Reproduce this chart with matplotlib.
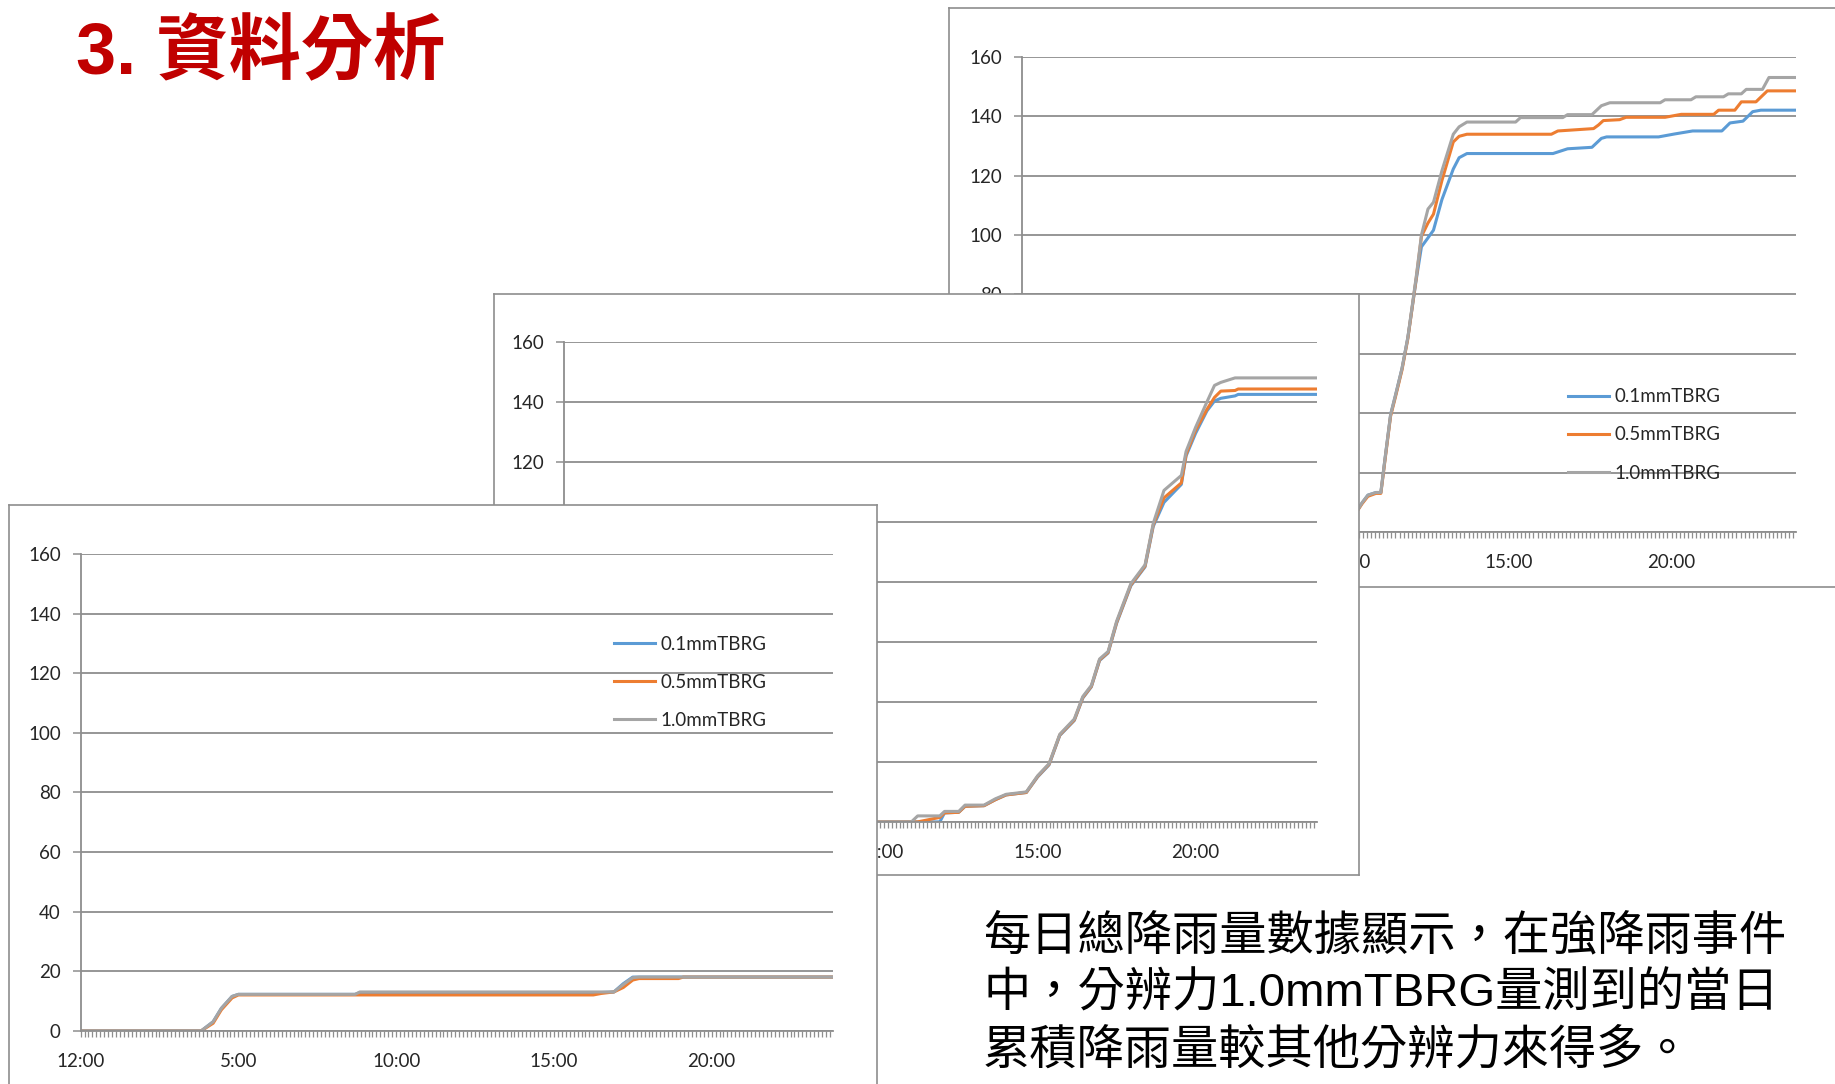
import matplotlib
matplotlib.use("Agg")
import matplotlib.pyplot as plt
from matplotlib.ticker import MultipleLocator

W, H = 1835, 1084

# ---- data (hours after midnight, accumulated rainfall mm) ----
series_names = ["0.1mmTBRG", "0.5mmTBRG", "1.0mmTBRG"]
series_colors = ["#5B9BD5", "#ED7D31", "#A5A5A5"]
x_tick_pos = [0, 5, 10, 15, 20]
x_tick_labels = ["12:00", "5:00", "10:00", "15:00", "20:00"]
y_ticks = [0, 20, 40, 60, 80, 100, 120, 140, 160]
x_end = 23.833

# back chart (top right)
c1_t_01 = [0, 9.6, 10.2, 10.47, 10.65, 10.9, 11.05, 11.17, 11.35, 11.5, 11.7, 11.88, 12.14, 12.3, 12.5,
           12.67, 12.93, 13.28, 13.46, 13.7, 16.35, 16.8, 17.55, 17.84, 18.0, 19.6, 20.1, 20.65, 21.55,
           21.8, 22.2, 22.5, 22.75, 23.833]
c1_v_01 = [0, 0, 5, 9.8, 12.4, 13.3, 13.3, 24, 39.5, 46, 55, 65.4, 85, 96, 99,
           101.6, 111.9, 122.2, 126, 127.4, 127.4, 129, 129.5, 132.5, 133, 133, 134, 135, 135,
           137.7, 138.3, 141.5, 142, 142]
c1_t_05 = [0, 9.6, 10.2, 10.47, 10.65, 10.9, 11.05, 11.17, 11.35, 11.5, 11.7, 11.88, 12.14, 12.3, 12.5,
           12.67, 12.93, 13.28, 13.46, 13.7, 16.3, 16.5, 17.6, 17.75, 17.9, 18.4, 18.6, 19.8, 20.3,
           21.3, 21.45, 21.95, 22.15, 22.6, 22.95, 23.833]
c1_v_05 = [0, 0, 5, 9.5, 12, 13, 13, 23.5, 39, 45.5, 54.5, 65, 85.5, 99.5, 104,
           107, 118.3, 131.3, 133.2, 133.9, 133.9, 135, 135.8, 137, 138.5, 138.8, 139.6, 139.6, 140.6,
           140.6, 142, 142, 144.8, 144.8, 148.5, 148.5]
c1_t_10 = [0, 9.6, 10.2, 10.47, 10.65, 10.9, 11.05, 11.17, 11.35, 11.5, 11.7, 11.88, 12.14, 12.3, 12.5,
           12.67, 12.93, 13.28, 13.46, 13.7, 15.2, 15.35, 16.65, 16.8, 17.55, 17.84, 18.1, 19.65, 19.8,
           20.6, 20.75, 21.6, 21.75, 22.15, 22.3, 22.8, 23.0, 23.833]
c1_v_10 = [0, 0, 5, 9.8, 12.4, 13.3, 13.3, 24, 39.5, 46, 55, 65.4, 86, 100, 108.7,
           111, 121.6, 133.9, 136.4, 138, 138, 139.5, 139.5, 140.5, 140.5, 143.5, 144.5, 144.5, 145.5,
           145.5, 146.5, 146.5, 147.5, 147.5, 149, 149, 153, 153]

# middle chart
c2_t = [0, 11.0, 11.2, 11.9, 12.05, 12.5, 12.7, 13.3, 13.66, 14.0, 14.64, 15.0, 15.36, 15.7, 16.16,
        16.43, 16.7, 16.96, 17.23, 17.5, 17.95, 18.4, 18.66, 19.0, 19.55, 19.7, 20.0, 20.36, 20.6,
        20.8, 21.25, 21.35, 23.833]
c2_v_01 = [0, 0, 0, 0, 3, 3.2, 5.2, 5.4, 7.4, 9.0, 9.8, 15, 19, 28.8, 33.8,
           41.3, 45, 53.8, 56.3, 66.2, 78.7, 85, 98.5, 106.5, 112.5, 122, 129.5, 137, 140.3,
           141.2, 142, 142.5, 142.5]
c2_v_05 = [0, 0, 0, 1.5, 3, 3.2, 5.2, 5.4, 7.4, 9.0, 9.8, 15.2, 19.2, 29, 34,
           41.5, 45.2, 54, 56.5, 66.5, 79, 85.3, 99, 108, 113, 122.5, 130.5, 137.5, 141.5,
           143.6, 143.8, 144.3, 144.3]
c2_v_10 = [0, 0, 2, 2, 3.5, 3.5, 5.6, 5.6, 7.7, 9.2, 10, 15.4, 19.4, 29.2, 34.3,
           41.8, 45.5, 54.3, 56.8, 66.9, 79.4, 85.7, 99.5, 110.5, 115.5, 123.5, 131.5, 140, 145.5,
           146.5, 148, 148, 148]

# front chart (bottom left)
c3_t = [0, 3.83, 4.2, 4.46, 4.8, 5.0, 8.7, 8.85, 16.25, 16.5, 16.9, 17.2, 17.5, 17.7, 18.95, 19.1, 23.833]
c3_v_01 = [0, 0, 3, 7.5, 11.5, 12.2, 12.2, 12.8, 12.8, 12.8, 13, 15.8, 18, 18, 18, 18, 18]
c3_v_05 = [0, 0, 2.5, 7, 11, 12, 12, 12, 12, 12.5, 13, 14.5, 17, 17.5, 17.5, 18, 18]
c3_v_10 = [0, 0, 3, 7.5, 11.5, 12.2, 12.2, 13, 13, 13, 13, 15.5, 17.8, 18, 18, 18, 18]

grey = "#8E8E8E"
tick_font = "Lato"
cjk = ["Liberation Sans", "Noto Sans CJK TC", "DejaVu Sans"]


def px_rect(x0, y0, x1, y1):
    return [x0 / W, 1 - y1 / H, (x1 - x0) / W, (y1 - y0) / H]


def make_frame(box, z):
    fr = fig.add_axes(px_rect(*box), zorder=z)
    fr.set_xticks([])
    fr.set_yticks([])
    fr.set_facecolor("white")
    for s in fr.spines.values():
        s.set_color(grey)
        s.set_linewidth(1.2)
    return fr


def make_chart(box, z, lines, legend_at=None):
    ax = fig.add_axes(px_rect(*box), zorder=z)
    ax.patch.set_visible(False)
    for (t, v), name, col in zip(lines, series_names, series_colors):
        ax.plot(t, v, color=col, lw=2.2, label=name, solid_joinstyle="round")
    ax.set_xlim(0, x_end)
    ax.set_ylim(0, 160)
    ax.set_yticks(y_ticks)
    ax.set_xticks(x_tick_pos)
    ax.set_xticklabels(x_tick_labels)
    ax.xaxis.set_minor_locator(MultipleLocator(0.125))
    ax.yaxis.grid(True, color=grey, lw=1.3)
    ax.set_axisbelow(True)
    for side in ["top", "right"]:
        ax.spines[side].set_visible(False)
    for side in ["left", "bottom"]:
        ax.spines[side].set_color(grey)
        ax.spines[side].set_linewidth(1.3)
    ax.tick_params(axis="y", direction="out", length=5.8, width=1.1, color=grey, pad=8.5,
                   labelsize=13.5, labelcolor="#262626")
    ax.tick_params(axis="x", which="both", direction="out", length=4.3, width=0.9, color=grey,
                   pad=11.5, labelsize=13.5, labelcolor="#262626")
    for lab in ax.get_xticklabels() + ax.get_yticklabels():
        lab.set_family(tick_font)
    if legend_at is not None:
        leg = ax.legend(loc="upper left", bbox_to_anchor=legend_at, frameon=False,
                        borderpad=0, borderaxespad=0, handlelength=2.2, handletextpad=0.3,
                        labelspacing=1.13, prop={"family": tick_font, "size": 13.5})
        for txt in leg.get_texts():
            txt.set_color("#262626")
    return ax


fig = plt.figure(figsize=(W / 100, H / 100), dpi=100)
fig.patch.set_facecolor("white")

make_frame((949, 8, 1850, 587), 1)
make_chart((1022, 56.7, 1796, 532), 2,
           [(c1_t_01, c1_v_01), (c1_t_05, c1_v_05), (c1_t_10, c1_v_10)],
           legend_at=(0.705, 0.3026))

make_frame((494, 294, 1359, 875), 3)
make_chart((564, 341.9, 1316.6, 821.9), 4,
           [(c2_t, c2_v_01), (c2_t, c2_v_05), (c2_t, c2_v_10)])

make_frame((9, 505, 877, 1100), 5)
make_chart((80.6, 554, 832.6, 1030.7), 6,
           [(c3_t, c3_v_01), (c3_t, c3_v_05), (c3_t, c3_v_10)],
           legend_at=(0.709, 0.829))

# title
fig.text(76 / W, 1 - 74 / H, "3. 資料分析", color="#C00000", fontsize=52, fontweight="bold",
         family=cjk, va="baseline", ha="left")

# note text
note_lines = ["每日總降雨量數據顯示，在強降雨事件",
              "中，分辨力1.0mmTBRG量測到的當日",
              "累積降雨量較其他分辨力來得多。"]
for i, line in enumerate(note_lines):
    fig.text(983 / W, 1 - (937 + 57 * i) / H, line, color="black", fontsize=34,
             family=cjk, va="center", ha="left")

fig.savefig("out.png", dpi=100, facecolor="white")
